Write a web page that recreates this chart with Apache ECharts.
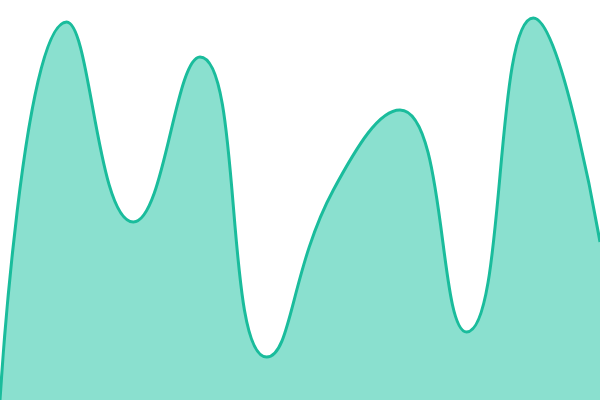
<!DOCTYPE html>
<html><head><meta charset="utf-8">
<script src="https://cdn.jsdelivr.net/npm/echarts@6/dist/echarts.min.js"></script>
<style>html,body{margin:0;padding:0;background:#fff}#c{width:600px;height:400px}</style>
</head><body><div id="c"></div>
<script>
const categories = ['1','2','3','4','5','6','7','8','9','10'];
const values = [0, 378, 178, 343, 43, 210, 290, 68, 382, 158];
const chart = echarts.init(document.getElementById('c'));
chart.setOption({
  animation: false,
  grid: {left: 0, right: 0, top: 0, bottom: 0},
  xAxis: {type: 'category', data: categories, boundaryGap: false, show: false},
  yAxis: {type: 'value', min: 0, max: 400, show: false},
  series: [{
    type: 'line',
    data: values,
    smooth: true,
    symbol: 'none',
    lineStyle: {color: '#1abc9c', width: 3},
    areaStyle: {color: '#8ae0cf', opacity: 1}
  }]
});
</script></body></html>
